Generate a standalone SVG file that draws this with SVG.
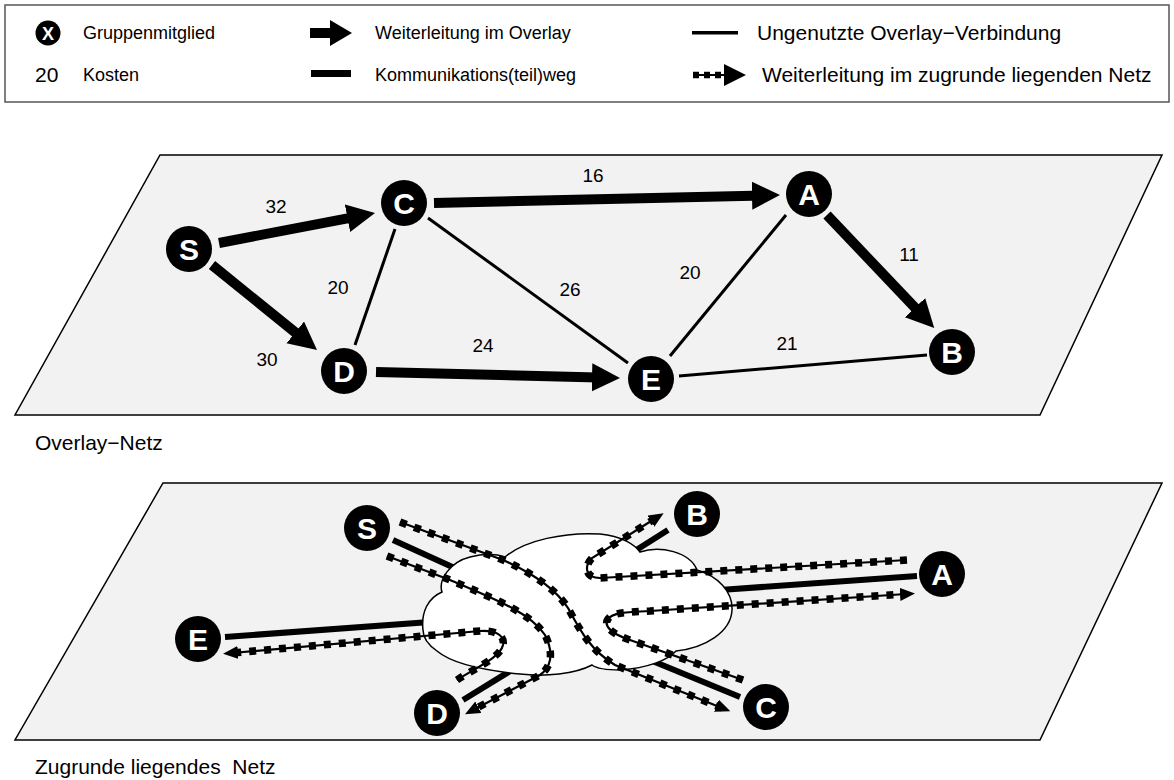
<svg xmlns="http://www.w3.org/2000/svg" width="1174" height="780" viewBox="0 0 1174 780">
  <style>
    text { font-family: "Liberation Sans", Arial, sans-serif; fill: #000; }
    .lg { font-size: 18px; }
    .lg2 { font-size: 21px; }
    .cost { font-size: 19px; text-anchor: middle; }
    .cap { font-size: 21px; }
    .plane { fill: #f2f2f2; stroke: #000; stroke-width: 1.5; }
    .node circle { fill: #000; }
    .node text { fill: #fff; font-weight: bold; font-size: 30px; text-anchor: middle; }
    .fwd { stroke: #000; stroke-width: 10; fill: none; marker-end: url(#bigHead); }
    .thin { stroke: #000; stroke-width: 3; fill: none; }
    .path { stroke: #000; stroke-width: 6; fill: none; }
    .rail { stroke: #000; stroke-width: 2.2; fill: none; }
    .ties { stroke: #000; stroke-width: 7.5; fill: none; stroke-dasharray: 7 8; }
    .cloud { fill: #fff; stroke: #000; stroke-width: 1.5; }
  </style>
  <defs>
    <marker id="bigHead" markerUnits="userSpaceOnUse" markerWidth="30" markerHeight="30" refX="16" refY="14" orient="auto">
      <path d="M0,0 L28,14 L0,28 Z" fill="#000"/>
    </marker>
    <marker id="smallHead" markerUnits="userSpaceOnUse" markerWidth="16" markerHeight="14" refX="6" refY="6.5" orient="auto">
      <path d="M0,0 L15,6.5 L0,13 Z" fill="#000"/>
    </marker>
  </defs>

  <!-- legend -->
  <g id="legend">
    <rect x="5" y="5" width="1164" height="97" fill="#fff" stroke="#555" stroke-width="1.5"/>
    <circle cx="48" cy="33" r="12.5" fill="#000"/>
    <text x="48" y="39.5" font-size="18" font-weight="bold" text-anchor="middle" style="fill:#fff">X</text>
    <text class="lg" x="83" y="39">Gruppenmitglied</text>
    <text x="35" y="82" font-size="21">20</text>
    <text class="lg" x="83" y="81">Kosten</text>
    <rect x="310" y="28" width="22" height="10" fill="#000"/>
    <path d="M330,20 L352,33 L330,46 Z" fill="#000"/>
    <text class="lg" x="375" y="39">Weiterleitung im Overlay</text>
    <rect x="311" y="70" width="40" height="7" fill="#000"/>
    <text class="lg" x="375" y="81">Kommunikations(teil)weg</text>
    <rect x="692" y="31" width="46" height="3.5" fill="#000"/>
    <text class="lg2" x="757" y="40">Ungenutzte Overlay−Verbindung</text>
    <line x1="693" y1="75" x2="727" y2="75" stroke="#000" stroke-width="2.2"/>
    <line x1="693" y1="75" x2="727" y2="75" stroke="#000" stroke-width="6.5" stroke-dasharray="6 5"/>
    <path d="M724,64 L746,75 L724,86 Z" fill="#000"/>
    <text class="lg2" x="762" y="82">Weiterleitung im zugrunde liegenden Netz</text>
  </g>

  <!-- overlay plane -->
  <polygon class="plane" points="160,155 1162,155 1040,415 15,415"/>
  <text class="cap" x="35" y="450">Overlay−Netz</text>

  <g id="overlay-links">
    <line class="thin" x1="395" y1="229" x2="355" y2="345"/>
    <line class="thin" x1="428" y1="218" x2="628" y2="363"/>
    <line class="thin" x1="786" y1="215" x2="670" y2="356"/>
    <line class="thin" x1="679" y1="376" x2="927" y2="355"/>
    <line class="fwd" x1="219" y1="243" x2="363.2" y2="215.3"/>
    <line class="fwd" x1="212" y1="265" x2="307.7" y2="342.5"/>
    <line class="fwd" x1="434" y1="203" x2="768" y2="195.3"/>
    <line class="fwd" x1="827" y1="215" x2="926" y2="319.3"/>
    <line class="fwd" x1="376" y1="372" x2="608" y2="377.7"/>
    <text class="cost" x="276" y="213">32</text>
    <text class="cost" x="593" y="182">16</text>
    <text class="cost" x="909" y="261">11</text>
    <text class="cost" x="338" y="294">20</text>
    <text class="cost" x="570" y="296">26</text>
    <text class="cost" x="690" y="279">20</text>
    <text class="cost" x="787" y="350">21</text>
    <text class="cost" x="483" y="352">24</text>
    <text class="cost" x="267" y="366">30</text>
  </g>

  <g id="ov-S" class="node"><circle cx="189" cy="249" r="23"/><text x="189" y="260">S</text></g>
  <g id="ov-C" class="node"><circle cx="404" cy="203" r="23"/><text x="404" y="214">C</text></g>
  <g id="ov-A" class="node"><circle cx="809" cy="194" r="23"/><text x="809" y="205">A</text></g>
  <g id="ov-B" class="node"><circle cx="952" cy="352" r="23"/><text x="952" y="363">B</text></g>
  <g id="ov-D" class="node"><circle cx="344" cy="371" r="23"/><text x="344" y="382">D</text></g>
  <g id="ov-E" class="node"><circle cx="651" cy="379" r="23"/><text x="651" y="390">E</text></g>

  <!-- underlying network plane -->
  <polygon class="plane" points="163,483 1162,483 1040,740 15,740"/>
  <text class="cap" x="35" y="774" style="white-space:pre">Zugrunde liegendes  Netz</text>

  <g id="underlay-links">
    <!-- communication segments -->
    <line class="path" x1="393" y1="540" x2="470" y2="575"/>
    <line class="path" x1="225" y1="637" x2="430" y2="622"/>
    <line class="path" x1="463" y1="700" x2="520" y2="665"/>
    <line class="path" x1="740" y1="697" x2="650" y2="660"/>
    <line class="path" x1="917" y1="576" x2="720" y2="590"/>
    <line class="path" x1="668" y1="530" x2="630" y2="554"/>
  </g>

  <g id="cloud">
    <path class="cloud" d="M423,630 C421,612 428,598 442,592 C438,580 450,562 470,557 C485,553 497,554 505,557 C525,540 565,532 600,534 C622,536 635,545 640,552 C660,545 690,552 697,570 C718,576 733,592 732,610 C731,632 705,648 676,651 C668,660 648,668 620,670 C605,670 596,668 592,665 C575,674 545,677 520,674 C480,670 450,662 437,651 C427,644 423,637 423,630 Z"/>
  </g>

  <g id="underlay-forwarding">
    <!-- S to C -->
    <path class="ties" d="M400,522 L503,560 C530,572 555,588 568,608 C580,630 590,650 615,665 L722,708"/>
    <path class="rail" marker-end="url(#smallHead)" d="M400,522 L503,560 C530,572 555,588 568,608 C580,630 590,650 615,665 L722,708"/>
    <!-- S to D -->
    <path class="ties" d="M387,556 L450,580 C490,597 530,612 545,635 C555,655 550,668 540,675 L473,710"/>
    <path class="rail" marker-end="url(#smallHead)" d="M387,556 L450,580 C490,597 530,612 545,635 C555,655 550,668 540,675 L473,710"/>
    <!-- D to E -->
    <path class="ties" d="M457,680 C475,668 500,658 503,645 C505,635 495,630 480,631 L232,653"/>
    <path class="rail" marker-end="url(#smallHead)" d="M457,680 C475,668 500,658 503,645 C505,635 495,630 480,631 L232,653"/>
    <!-- C to A -->
    <path class="ties" d="M743,680 L630,640 C612,634 603,626 608,619 C612,613 625,612 650,611 L906,594"/>
    <path class="rail" marker-end="url(#smallHead)" d="M743,680 L630,640 C612,634 603,626 608,619 C612,613 625,612 650,611 L906,594"/>
    <!-- A to B -->
    <path class="ties" d="M907,560 L600,578 C585,578 584,566 592,558 L656,518"/>
    <path class="rail" marker-end="url(#smallHead)" d="M907,560 L600,578 C585,578 584,566 592,558 L656,518"/>
  </g>

  <g id="un-S" class="node"><circle cx="367" cy="528" r="23"/><text x="367" y="539">S</text></g>
  <g id="un-B" class="node"><circle cx="697" cy="514" r="23"/><text x="697" y="525">B</text></g>
  <g id="un-A" class="node"><circle cx="942" cy="574" r="23"/><text x="942" y="585">A</text></g>
  <g id="un-E" class="node"><circle cx="198" cy="639" r="23"/><text x="198" y="650">E</text></g>
  <g id="un-D" class="node"><circle cx="437" cy="713" r="23"/><text x="437" y="724">D</text></g>
  <g id="un-C" class="node"><circle cx="766" cy="707" r="23"/><text x="766" y="718">C</text></g>
</svg>
